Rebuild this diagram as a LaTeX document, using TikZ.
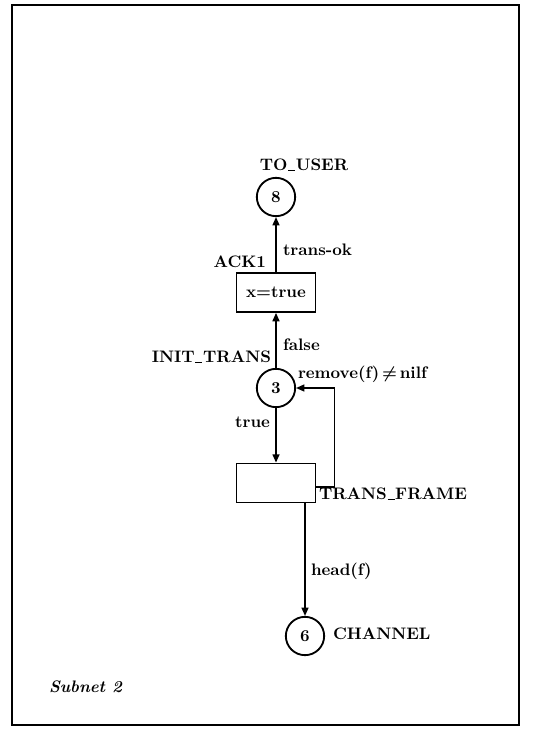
\documentclass[tikz,border=0pt]{standalone}
\usepackage{tikz}
\usetikzlibrary{positioning, arrows.meta, calc}
\usepackage{amsmath}
\newcommand{\usc}{\kern0.04em\rule[-0.02ex]{0.42em}{0.16ex}\kern0.04em}

\begin{document}
\begin{tikzpicture}[x=0.6pt, y=-0.6pt, font=\bfseries,
    place/.style={draw, circle, line width=1.1pt, minimum size=23pt, inner sep=0pt},
    trans/.style={draw, rectangle, line width=0.9pt, minimum width=47.4pt,
                  minimum height=23.6pt, inner sep=0pt},
    arc/.style={line width=0.9pt, -{Triangle[length=5pt, width=4.2pt]}},
    lbl/.style={inner sep=1pt}]
  \useasboundingbox (0,0) rectangle (551,730);
  \draw[line width=1.1pt] (12,5) rectangle (519,725);

  % places and transitions
  \node[place] (touser) at (276,197) {8};
  \node[trans] (ack) at (276,292.5) {x=true};
  \node[place] (init) at (276,388) {3};
  \node[trans] (frame) at (276,483) {};
  \node[place] (chan) at (305,636) {6};

  % names
  \node[lbl] (touserlbl) at (304,165) {TO\usc USER};
  \node[lbl, anchor=east] (acklbl) at (268,262) {ACK1};
  \node[lbl, anchor=east] (initlbl) at (273,357) {INIT\usc TRANS};
  \node[lbl, anchor=west] (framelbl) at (317,494) {TRANS\usc FRAME};
  \node[lbl, anchor=west] (chanlbl) at (331,634) {CHANNEL};

  % arcs
  \draw[arc] (ack) -- (touser);
  \draw[arc] (init) -- (ack);
  \draw[arc] (init) -- (frame);
  \draw[arc] ([yshift=-2.4pt]frame.east) -- ++(18,0) |- (init.east);
  \draw[arc] (frame.south -| chan.north) -- (chan.north);

  % arc inscriptions
  \node[lbl, anchor=west] (okl) at (281,250) {trans-ok};
  \node[lbl, anchor=west] (falsel) at (281,345) {false};
  \node[lbl, anchor=west] (removel) at (296,374) {remove(f)\,$\boldsymbol{\neq}$\,nilf};
  \node[lbl, anchor=east] (truel) at (272,422) {true};
  \node[lbl, anchor=west] (headl) at (309,571) {head(f)};

  \node[lbl, anchor=west] (subnet) at (47,687) {\textit{Subnet 2}};
\end{tikzpicture}
\end{document}
